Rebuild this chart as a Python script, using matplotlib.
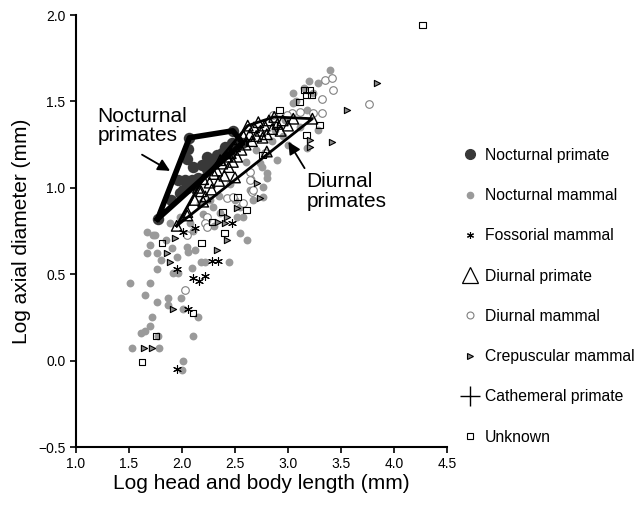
import matplotlib.pyplot as plt
from matplotlib.lines import Line2D
import numpy as np

plt.rcParams['font.family'] = ['Liberation Sans', 'DejaVu Sans']

# --- data (log head-body length, log axial diameter) ---
noct_primate_x = [1.77, 2.07, 2.48, 2.57, 2.055, 2.045, 2.234, 2.328, 2.375, 2.290,
                  2.026, 1.960, 2.092, 2.008, 2.092, 2.12, 2.24, 2.403, 2.469, 2.431,
                  2.33, 2.186, 1.979, 2.10, 2.149, 2.26, 1.90, 2.05]
noct_primate_y = [0.82, 1.29, 1.33, 1.26, 1.225, 1.167, 1.178, 1.190, 1.20, 1.144,
                  1.045, 1.045, 1.045, 0.987, 1.016, 1.03, 1.11, 1.236, 1.259, 1.201,
                  1.16, 1.132, 0.970, 1.12, 1.057, 1.14, 0.93, 1.00]

noct_mammal_x = [1.508, 1.697, 1.650, 1.763, 1.866, 1.989, 1.866, 2.008, 2.149, 1.716,
                 1.697, 1.650, 1.612, 1.772, 2.102, 1.527, 1.782, 2.008, 1.998, 1.744,
                 1.697, 1.669, 1.763, 1.763, 1.913, 1.960, 2.055, 2.121, 2.177, 2.215,
                 2.092, 1.904, 2.045, 2.441, 1.669, 1.725, 1.979, 1.885, 2.073, 2.168,
                 2.262, 2.290, 2.234, 2.356, 2.516, 2.544, 2.638, 2.761, 2.667, 2.751,
                 2.798, 2.893, 3.392, 3.279, 3.232, 3.043, 3.175, 3.279, 3.175, 3.109,
                 2.798, 2.733, 2.798, 2.761, 2.573, 2.544, 2.610, 2.968, 2.874, 3.08,
                 2.60, 2.70, 2.85, 2.95, 3.00, 2.45, 2.35, 2.20, 2.10, 1.85,
                 1.80, 1.95, 2.30, 2.50, 2.65, 3.15, 3.05, 3.20]
noct_mammal_y = [0.449, 0.449, 0.380, 0.339, 0.362, 0.362, 0.322, 0.299, 0.252, 0.252,
                 0.200, 0.171, 0.160, 0.142, 0.142, 0.073, 0.073, -0.002, -0.054, 0.727,
                 0.669, 0.623, 0.623, 0.530, 0.507, 0.507, 0.628, 0.640, 0.571, 0.571,
                 0.536, 0.652, 0.657, 0.571, 0.744, 0.727, 0.831, 0.796, 0.796, 0.912,
                 0.929, 0.889, 0.814, 0.854, 0.831, 0.889, 0.987, 1.005, 0.929, 1.120,
                 1.086, 1.161, 1.682, 1.606, 1.549, 1.491, 1.450, 1.334, 1.230, 1.352,
                 1.201, 1.144, 1.057, 0.947, 0.831, 0.738, 0.698, 1.392, 1.334, 1.50,
                 1.15, 1.22, 1.27, 1.30, 1.25, 1.02, 0.95, 0.85, 0.75, 0.70,
                 0.58, 0.60, 0.78, 0.93, 1.05, 1.58, 1.55, 1.62]

fossorial_x = [2.055, 1.951, 1.951, 2.102, 2.158, 2.215, 2.281, 2.337, 2.008, 2.121, 2.469]
fossorial_y = [0.299, -0.049, 0.530, 0.478, 0.461, 0.490, 0.576, 0.576, 0.744, 0.767, 0.796]

diurnal_primate_x = [1.95, 2.05, 2.12, 2.18, 2.22, 2.26, 2.28, 2.30, 2.33, 2.35,
                     2.38, 2.40, 2.42, 2.44, 2.46, 2.48, 2.50, 2.52, 2.54, 2.56,
                     2.58, 2.60, 2.62, 2.64, 2.66, 2.68, 2.70, 2.72, 2.74, 2.76,
                     2.78, 2.80, 2.82, 2.85, 2.87, 2.90, 2.93, 2.95, 3.00, 3.05,
                     3.23, 2.15, 2.36, 2.20, 2.50, 2.80, 2.20, 2.05]
diurnal_primate_y = [0.78, 0.86, 0.93, 0.98, 0.95, 1.03, 0.99, 1.08, 1.10, 1.04,
                     1.14, 1.07, 1.18, 1.12, 1.20, 1.15, 1.24, 1.18, 1.28, 1.22,
                     1.30, 1.25, 1.36, 1.31, 1.27, 1.35, 1.30, 1.38, 1.33, 1.29,
                     1.36, 1.31, 1.39, 1.34, 1.41, 1.37, 1.33, 1.39, 1.36, 1.40,
                     1.40, 1.00, 1.16, 1.05, 1.06, 1.21, 0.92, 0.84]

diurnal_mammal_x = [2.026, 2.045, 2.422, 2.234, 2.638, 2.657, 2.573, 2.215, 3.420, 3.345,
                    3.411, 3.768, 3.316, 3.316, 3.232, 3.109, 3.034, 2.987, 2.855, 2.780,
                    2.638, 2.667, 2.478, 2.234]
diurnal_mammal_y = [0.409, 0.727, 0.941, 0.831, 1.091, 0.976, 0.912, 0.796, 1.566, 1.624,
                    1.635, 1.485, 1.514, 1.433, 1.433, 1.439, 1.433, 1.421, 1.421, 1.201,
                    1.045, 0.987, 0.947, 0.773]

crepuscular_x = [3.844, 3.552, 3.411, 3.203, 3.203, 2.704, 2.733, 2.516, 2.337, 2.422,
                 2.328, 1.932, 1.857, 1.885, 1.913, 1.640, 1.716, 2.422, 2.403]
crepuscular_y = [1.606, 1.450, 1.265, 1.277, 1.236, 1.028, 0.941, 0.883, 0.802, 0.698,
                 0.640, 0.710, 0.623, 0.571, 0.299, 0.073, 0.073, 0.831, 0.796]

cathemeral_x = [2.45, 2.60, 2.90]
cathemeral_y = [1.20, 1.27, 1.35]

unknown_x = [4.267, 3.156, 3.203, 3.175, 3.222, 3.109, 2.921, 3.298, 3.175, 2.761,
             2.525, 2.610, 2.384, 2.403, 2.281, 2.186, 1.810, 2.102, 1.753, 1.621]
unknown_y = [1.942, 1.566, 1.566, 1.537, 1.537, 1.497, 1.450, 1.363, 1.306, 1.190,
             0.947, 0.872, 0.860, 0.738, 0.802, 0.681, 0.681, 0.276, 0.142, -0.008]


def hull(xs, ys):
    pts = sorted(set(zip(xs, ys)))

    def cross(o, a, b):
        return (a[0] - o[0]) * (b[1] - o[1]) - (a[1] - o[1]) * (b[0] - o[0])

    lower, upper = [], []
    for p in pts:
        while len(lower) >= 2 and cross(lower[-2], lower[-1], p) <= 0:
            lower.pop()
        lower.append(p)
    for p in reversed(pts):
        while len(upper) >= 2 and cross(upper[-2], upper[-1], p) <= 0:
            upper.pop()
        upper.append(p)
    h = lower[:-1] + upper[:-1]
    h.append(h[0])
    return np.array(h)


def fmt(v, pos):
    return ('%.1f' % v).replace('-', '\u2212')


fig = plt.figure(figsize=(6.43, 5.11), dpi=100)
ax = fig.add_axes([0.1182, 0.1252, 0.577, 0.8454])

ax.scatter(noct_mammal_x, noct_mammal_y, s=32, color='#9a9a9a', linewidths=0, zorder=2)
ax.scatter(diurnal_mammal_x, diurnal_mammal_y, s=30, facecolors='white',
           edgecolors='#808080', linewidths=0.8, zorder=3)
ax.scatter(unknown_x, unknown_y, s=22, marker='s', facecolors='none',
           edgecolors='black', linewidths=0.8, zorder=3)
ax.scatter(crepuscular_x, crepuscular_y, s=20, marker='>', facecolors='#888888',
           edgecolors='black', linewidths=0.8, zorder=3)
ax.scatter(fossorial_x, fossorial_y, s=32, marker=(6, 2, 0), color='black',
           linewidths=0.8, zorder=3)
ax.scatter(noct_primate_x, noct_primate_y, s=68, color='#383838', linewidths=0, zorder=4)
ax.scatter(diurnal_primate_x, diurnal_primate_y, s=58, marker='^', facecolors='none',
           edgecolors='black', linewidths=1.0, zorder=5)
ax.scatter(cathemeral_x, cathemeral_y, s=60, marker='+', color='black',
           linewidths=1.0, zorder=5)

h1 = hull(noct_primate_x, noct_primate_y)
ax.plot(h1[:, 0], h1[:, 1], color='black', lw=4, solid_joinstyle='round', zorder=6)
h2 = hull(diurnal_primate_x, diurnal_primate_y)
ax.plot(h2[:, 0], h2[:, 1], color='black', lw=2, zorder=6)

ax.text(1.20, 1.47, 'Nocturnal\nprimates', fontsize=15, va='top', ha='left',
        linespacing=1.05)
ax.annotate('', xy=(1.91, 1.09), xytext=(1.60, 1.20),
            arrowprops=dict(arrowstyle='-|>', color='black', lw=1.3, mutation_scale=18))
ax.text(3.175, 1.09, 'Diurnal\nprimates', fontsize=15, va='top', ha='left',
        linespacing=1.05)
ax.annotate('', xy=(2.99, 1.28), xytext=(3.17, 1.10),
            arrowprops=dict(arrowstyle='-|>', color='black', lw=1.3, mutation_scale=18))

ax.set_xlim(1.0, 4.5)
ax.set_ylim(-0.5, 2.0)
ax.set_xticks(np.arange(1.0, 4.51, 0.5))
ax.set_yticks(np.arange(-0.5, 2.01, 0.5))
ax.xaxis.set_major_formatter(plt.FuncFormatter(fmt))
ax.yaxis.set_major_formatter(plt.FuncFormatter(fmt))
ax.tick_params(labelsize=10, width=1.2, length=4)
ax.spines['top'].set_visible(False)
ax.spines['right'].set_visible(False)
ax.spines['left'].set_linewidth(1.5)
ax.spines['bottom'].set_linewidth(1.5)
ax.set_xlabel('Log head and body length (mm)', fontsize=15, labelpad=2)
ax.set_ylabel('Log axial diameter (mm)', fontsize=15, labelpad=5)

handles = [
    Line2D([], [], ls='', marker='o', ms=7, color='#383838'),
    Line2D([], [], ls='', marker='o', ms=4.5, color='#9a9a9a'),
    Line2D([], [], ls='', marker=(6, 2, 0), ms=5, color='black', mew=0.8),
    Line2D([], [], ls='', marker='^', ms=11, mfc='none', mec='black', mew=0.9),
    Line2D([], [], ls='', marker='o', ms=5, mfc='white', mec='#808080', mew=0.8),
    Line2D([], [], ls='', marker='>', ms=4.5, mfc='#888888', mec='black', mew=0.8),
    Line2D([], [], ls='', marker='+', ms=14, color='black', mew=1.0),
    Line2D([], [], ls='', marker='s', ms=4.5, mfc='none', mec='black', mew=0.8),
]
labels = ['Nocturnal primate', 'Nocturnal mammal', 'Fossorial mammal', 'Diurnal primate',
          'Diurnal mammal', 'Crepuscular mammal', 'Cathemeral primate', 'Unknown']
fig.legend(handles, labels, loc='upper left', bbox_to_anchor=(0.707, 0.726),
           frameon=False, fontsize=11.3, labelspacing=1.61, handlelength=1.0,
           handletextpad=0.45, borderpad=0)

fig.savefig('out.png', dpi=100)
